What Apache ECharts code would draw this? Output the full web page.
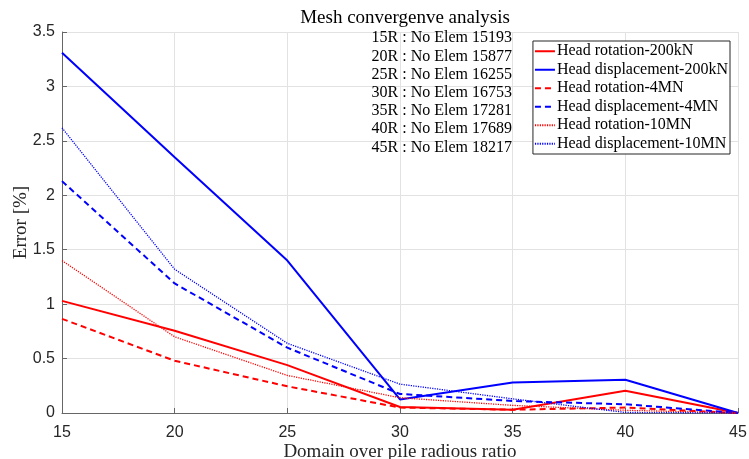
<!DOCTYPE html>
<html>
<head>
<meta charset="utf-8">
<script src="https://cdn.jsdelivr.net/npm/echarts@6/dist/echarts.min.js"></script>
<style>
html,body{margin:0;padding:0;background:#fff;}
#chart{width:749px;height:459px;}
</style>
</head>
<body>
<div id="chart"></div>
<script>
const xValues = [15, 20, 25, 30, 35, 40, 45];
const rot200kN  = [1.03, 0.755, 0.44, 0.055, 0.03, 0.205, 0];
const disp200kN = [3.31, 2.35, 1.40, 0.125, 0.28, 0.305, 0];
const rot4MN    = [0.865, 0.48, 0.245, 0.05, 0.03, 0.05, 0];
const disp4MN   = [2.13, 1.19, 0.60, 0.175, 0.11, 0.08, 0];
const rot10MN   = [1.40, 0.70, 0.345, 0.14, 0.07, 0.025, 0];
const disp10MN  = [2.62, 1.32, 0.64, 0.265, 0.13, 0.005, 0];
const seriesNames = ['Head rotation-200kN','Head displacement-200kN','Head rotation-4MN','Head displacement-4MN','Head rotation-10MN','Head displacement-10MN'];
const annotationLines = ['15R : No Elem 15193','20R : No Elem 15877','25R : No Elem 16255','30R : No Elem 16753','35R : No Elem 17281','40R : No Elem 17689','45R : No Elem 18217'];
const titleText = 'Mesh convergenve analysis';
const xLabel = 'Domain over pile radious ratio';
const yLabel = 'Error [%]';

const serif = '"Liberation Serif", "DejaVu Serif", serif';
const sans = '"Liberation Sans", Arial, sans-serif';
const RED = '#ff0000', BLUE = '#0000ff';

function pairs(vals){ return xValues.map((x,i)=>[x, vals[i]]); }
function mk(name, vals, color, type, width){
  return {name, type:'line', data:pairs(vals), symbol:'none', animation:false,
    lineStyle:{color, type, width}, itemStyle:{color}};
}
const allData = [rot200kN, disp200kN, rot4MN, disp4MN, rot10MN, disp10MN];
const styles = [[RED,'solid',2],[BLUE,'solid',2],[RED,[6,4],2],[BLUE,[6,4],2],[RED,[1.2,1.2],1.3],[BLUE,[1.2,1.2],1.3]];

const chart = echarts.init(document.getElementById('chart'), null, {renderer:'canvas'});
chart.setOption({
  backgroundColor:'#fff',
  animation:false,
  title:{text:titleText, top:4, left:400, textAlign:'center',
    textStyle:{fontFamily:serif, fontSize:19, fontWeight:'normal', color:'#000'}},
  grid:{left:62, right:11, top:32, bottom:46, containLabel:false, outerBoundsMode:'none'},
  legend:{orient:'vertical', right:19, top:41, data:seriesNames,
    backgroundColor:'#fff', borderColor:'#262626', borderWidth:1, borderRadius:0,
    padding:[1,2,1,1], itemGap:0, itemWidth:20, itemHeight:10,
    itemStyle:{opacity:0, borderWidth:0},
    textStyle:{fontFamily:serif, fontSize:16, color:'#000', lineHeight:18.5, padding:[0,0,0,-3]}},
  xAxis:{type:'value', min:15, max:45, interval:5,
    name:xLabel, nameLocation:'middle', nameGap:30, nameMoveOverlap:false,
    nameTextStyle:{fontFamily:serif, fontSize:19, color:'#262626'},
    axisLine:{show:true, onZero:false, lineStyle:{color:'#666', width:1}},
    axisTick:{show:true, inside:true, length:5, lineStyle:{color:'#666'}},
    axisLabel:{fontFamily:sans, fontSize:16, color:'#262626', margin:12},
    splitLine:{show:true, lineStyle:{color:'#e2e2e2', width:1}}},
  yAxis:{type:'value', min:0, max:3.5, interval:0.5,
    name:yLabel, nameLocation:'middle', nameGap:31, nameRotate:90, nameMoveOverlap:false,
    nameTextStyle:{fontFamily:serif, fontSize:19, color:'#262626'},
    axisLine:{show:true, lineStyle:{color:'#666', width:1}},
    axisTick:{show:true, inside:true, length:5, lineStyle:{color:'#666'}},
    axisLabel:{fontFamily:sans, fontSize:16, color:'#262626', margin:7},
    splitLine:{show:true, lineStyle:{color:'#e2e2e2', width:1}}},
  series: seriesNames.map((n,i)=>mk(n, allData[i], styles[i][0], styles[i][1], styles[i][2])),
  graphic:[{type:'text', right:749-512, top:29, z:100,
    style:{text:annotationLines.join('\n'), font:'16px '+serif, fill:'#000', textAlign:'right', lineHeight:18.2}}]
});
</script>
</body>
</html>
